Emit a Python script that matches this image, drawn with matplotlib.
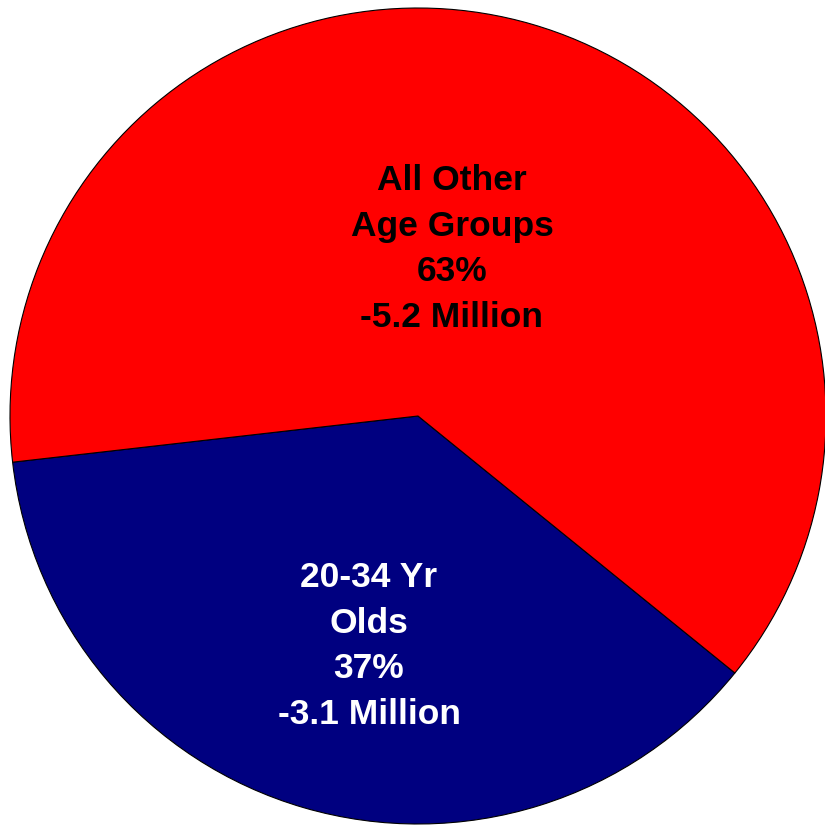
import matplotlib
matplotlib.use("Agg")
import matplotlib.pyplot as plt

# Population change by age group (millions)
categories = ["20-34 Yr\nOlds", "All Other\nAge Groups"]
changes = [3.1, 5.2]
colors = ["#000080", "#FF0000"]
text_colors = ["white", "black"]

total = sum(changes)
shares = [v / total * 100 for v in changes]

W, H = 825, 826
fig = plt.figure(figsize=(W / 100, H / 100), dpi=100)

# pie centre and radius in pixels
cx, cy, r = 418, 416, 408
ax = fig.add_axes([(cx - r) / W, (H - cy - r) / H, 2 * r / W, 2 * r / H])
ax.set_xlim(-1, 1)
ax.set_ylim(-1, 1)
ax.set_aspect("equal")
ax.axis("off")

ax.pie(changes, colors=colors, startangle=186.5, counterclock=True,
       radius=1.0, center=(0, 0), frame=False,
       wedgeprops=dict(edgecolor="black", linewidth=0.8, antialiased=True))
ax.set_xlim(-1, 1)
ax.set_ylim(-1, 1)

# label anchor: centre x and first baseline (pixels), line step (pixels)
anchors = [(369, 587), (452, 190)]
step = 45.7

for cat, val, pct, tc, (px, py) in zip(categories, changes, shares, text_colors, anchors):
    lines = cat.split("\n") + [f"{pct:.0f}%", f"-{val} Million"]
    for i, line in enumerate(lines):
        x = (px - cx) / r
        y = (cy - (py + i * step)) / r
        ax.text(x, y, line, ha="center", va="baseline", color=tc,
                fontsize=25.5, fontweight="bold",
                family=["Liberation Sans", "DejaVu Sans"])

fig.savefig("out.png", dpi=100)
